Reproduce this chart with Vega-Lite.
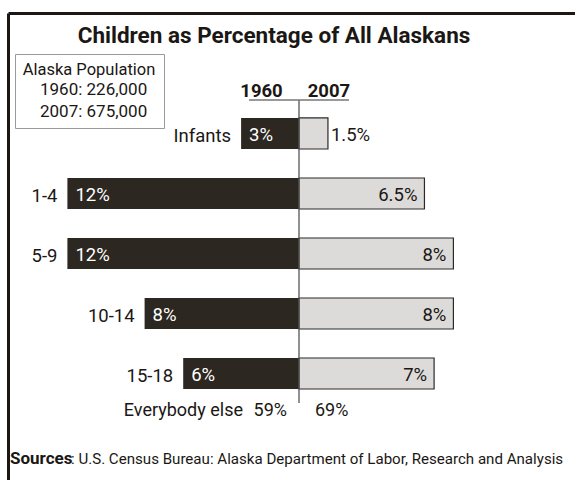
{
  "$schema": "https://vega.github.io/schema/vega-lite/v6.json",
  "width": 567,
  "height": 467,
  "autosize": {"type": "none"},
  "padding": {"left": 8, "top": 13, "right": 0, "bottom": 0},
  "background": "white",
  "title": {
    "text": "Children as Percentage of All Alaskans",
    "orient": "top",
    "anchor": "middle",
    "frame": "group",
    "offset": -52,
    "baseline": "alphabetic",
    "dx": -17.5,
    "font": "Roboto",
    "fontSize": 22.5,
    "fontWeight": "bold",
    "color": "#1a1714"
  },
  "config": {
    "view": {"stroke": null},
    "text": {"font": "Roboto", "color": "#1a1714", "fontSize": 18.5, "baseline": "alphabetic"}
  },
  "datasets": {
    "ages": [
      {"age": "Infants", "y1960": 0.03, "y2007": 0.015},
      {"age": "1-4", "y1960": 0.12, "y2007": 0.065},
      {"age": "5-9", "y1960": 0.12, "y2007": 0.08},
      {"age": "10-14", "y1960": 0.08, "y2007": 0.08},
      {"age": "15-18", "y1960": 0.06, "y2007": 0.07}
    ],
    "other": [
      {"age": "Everybody else", "y1960": 0.59, "y2007": 0.69}
    ],
    "none": [{}]
  },
  "layer": [
    {
      "data": {"name": "ages"},
      "encoding": {
        "y": {
          "field": "age",
          "type": "nominal",
          "title": null,
          "scale": {
            "domain": ["Year", "Infants", "1-4", "5-9", "10-14", "15-18", "Everybody else"],
            "paddingInner": 0.483,
            "paddingOuter": 0.633,
            "align": 0.592,
            "round": false
          },
          "axis": {"orient": "left", "domain": true, "domainColor": "#1a1714", "domainWidth": 3, "ticks": false, "labels": false, "grid": false, "title": null}
        },
        "x": {
          "field": "y1960",
          "type": "quantitative",
          "title": null,
          "scale": {"domain": [-0.143005, 0.150777], "reverse": true, "nice": false, "zero": false},
          "axis": null
        }
      },
      "layer": [
        {
          "mark": {"type": "bar", "orient": "horizontal", "stroke": null},
          "encoding": {
            "x2": {"datum": 0},
            "fill": {
              "datum": "1960",
              "type": "nominal",
              "scale": {"domain": ["1960", "2007"], "range": ["#2c2721", "#dcdbd9"]},
              "legend": {
                "orient": "none",
                "legendX": 7,
                "legendY": 41,
                "direction": "vertical",
                "title": "Alaska Population",
                "titleFont": "Roboto",
                "titleFontSize": 16.5,
                "titleFontWeight": "normal",
                "titleColor": "#1a1714",
                "titleAnchor": "middle",
                "titlePadding": 3,
                "labelFont": "Roboto",
                "labelFontSize": 17,
                "labelColor": "#1a1714",
                "labelExpr": "datum.label == '1960' ? '1960: 226,000' : '2007: 675,000'",
                "labelOffset": -8,
                "labelLimit": 300,
                "symbolSize": 0,
                "symbolOpacity": 0,
                "symbolStrokeWidth": 0,
                "strokeColor": "#9a9a9a",
                "fillColor": "white",
                "padding": 8,
                "rowPadding": 4
              }
            }
          }
        },
        {
          "mark": {"type": "text", "align": "left", "dx": 8, "dy": 8, "fontSize": 18.5, "color": "white"},
          "encoding": {"text": {"field": "y1960", "type": "quantitative", "format": "~%"}}
        },
        {
          "mark": {"type": "text", "align": "right", "dx": -10, "dy": 9, "fontSize": 18.5},
          "encoding": {"text": {"field": "age", "type": "nominal"}}
        }
      ]
    },
    {
      "layer": [
        {
          "data": {"name": "ages"},
          "mark": {"type": "bar", "orient": "horizontal", "stroke": "#2a2a2a", "strokeWidth": 1.2},
          "encoding": {
            "y": {"field": "age", "type": "nominal", "title": null},
            "x": {
              "field": "y2007",
              "type": "quantitative",
              "title": null,
              "scale": {"domain": [-0.150777, 0.143005], "nice": false, "zero": false},
              "axis": {"orient": "top", "domain": true, "domainColor": "#1a1714", "domainWidth": 3, "ticks": false, "labels": false, "grid": false, "title": null}
            },
            "x2": {"datum": 0},
            "fill": {"datum": "2007", "type": "nominal"}
          }
        },
        {
          "data": {"name": "ages"},
          "transform": [{"filter": "datum.y2007 >= 0.05"}],
          "mark": {"type": "text", "align": "right", "dx": -7, "dy": 8, "fontSize": 18.5},
          "encoding": {
            "y": {"field": "age", "type": "nominal", "title": null},
            "x": {"field": "y2007", "type": "quantitative", "title": null},
            "text": {"field": "y2007", "type": "quantitative", "format": "~%"}
          }
        },
        {
          "data": {"name": "ages"},
          "transform": [{"filter": "datum.y2007 < 0.05"}],
          "mark": {"type": "text", "align": "left", "dx": 3, "dy": 8, "fontSize": 18.5},
          "encoding": {
            "y": {"field": "age", "type": "nominal", "title": null},
            "x": {"field": "y2007", "type": "quantitative", "title": null},
            "text": {"field": "y2007", "type": "quantitative", "format": "~%"}
          }
        },
        {
          "data": {"name": "none"},
          "mark": {"type": "rule", "color": "#555555", "strokeWidth": 1.3, "yOffset": -33.5, "y2Offset": -30.5},
          "encoding": {
            "x": {"datum": 0, "type": "quantitative", "title": null},
            "y": {"datum": "Infants", "type": "nominal", "title": null},
            "y2": {"datum": "Everybody else"}
          }
        },
        {
          "data": {"name": "none"},
          "mark": {"type": "rule", "color": "#777777", "strokeWidth": 1.5, "yOffset": -33.5},
          "encoding": {
            "x": {"datum": -0.0259, "type": "quantitative", "title": null},
            "x2": {"datum": 0.0259},
            "y": {"datum": "Infants", "type": "nominal", "title": null}
          }
        },
        {
          "data": {"name": "none"},
          "mark": {"type": "text", "align": "center", "dy": -36, "fontSize": 18.5, "fontWeight": "bold", "text": "1960"},
          "encoding": {
            "x": {"datum": -0.01943, "type": "quantitative", "title": null},
            "y": {"datum": "Infants", "type": "nominal", "title": null}
          }
        },
        {
          "data": {"name": "none"},
          "mark": {"type": "text", "align": "center", "dy": -36, "fontSize": 18.5, "fontWeight": "bold", "text": "2007"},
          "encoding": {
            "x": {"datum": 0.01554, "type": "quantitative", "title": null},
            "y": {"datum": "Infants", "type": "nominal", "title": null}
          }
        },
        {
          "data": {"name": "other"},
          "mark": {"type": "text", "align": "right", "dy": -17, "fontSize": 18},
          "encoding": {
            "x": {"datum": -0.02902, "type": "quantitative", "title": null},
            "y": {"field": "age", "type": "nominal", "title": null},
            "text": {"field": "age", "type": "nominal"}
          }
        },
        {
          "data": {"name": "other"},
          "mark": {"type": "text", "align": "right", "dy": -17, "fontSize": 18},
          "encoding": {
            "x": {"datum": -0.00622, "type": "quantitative", "title": null},
            "y": {"field": "age", "type": "nominal", "title": null},
            "text": {"field": "y1960", "type": "quantitative", "format": "~%"}
          }
        },
        {
          "data": {"name": "other"},
          "mark": {"type": "text", "align": "left", "dy": -17, "fontSize": 18},
          "encoding": {
            "x": {"datum": 0.00829, "type": "quantitative", "title": null},
            "y": {"field": "age", "type": "nominal", "title": null},
            "text": {"field": "y2007", "type": "quantitative", "format": "~%"}
          }
        },
        {
          "data": {"name": "none"},
          "mark": {"type": "text", "align": "left", "dy": 30.5, "fontSize": 17, "fontWeight": "bold", "text": "Sources"},
          "encoding": {
            "x": {"datum": -0.14974, "type": "quantitative", "title": null},
            "y": {"datum": "Everybody else", "type": "nominal", "title": null}
          }
        },
        {
          "data": {"name": "none"},
          "mark": {"type": "text", "align": "left", "dy": 30.5, "fontSize": 15.1, "text": ": U.S. Census Bureau: Alaska Department of Labor, Research and Analysis"},
          "encoding": {
            "x": {"datum": -0.11813, "type": "quantitative", "title": null},
            "y": {"datum": "Everybody else", "type": "nominal", "title": null}
          }
        }
      ]
    }
  ],
  "resolve": {"scale": {"x": "independent"}, "axis": {"x": "independent"}}
}
